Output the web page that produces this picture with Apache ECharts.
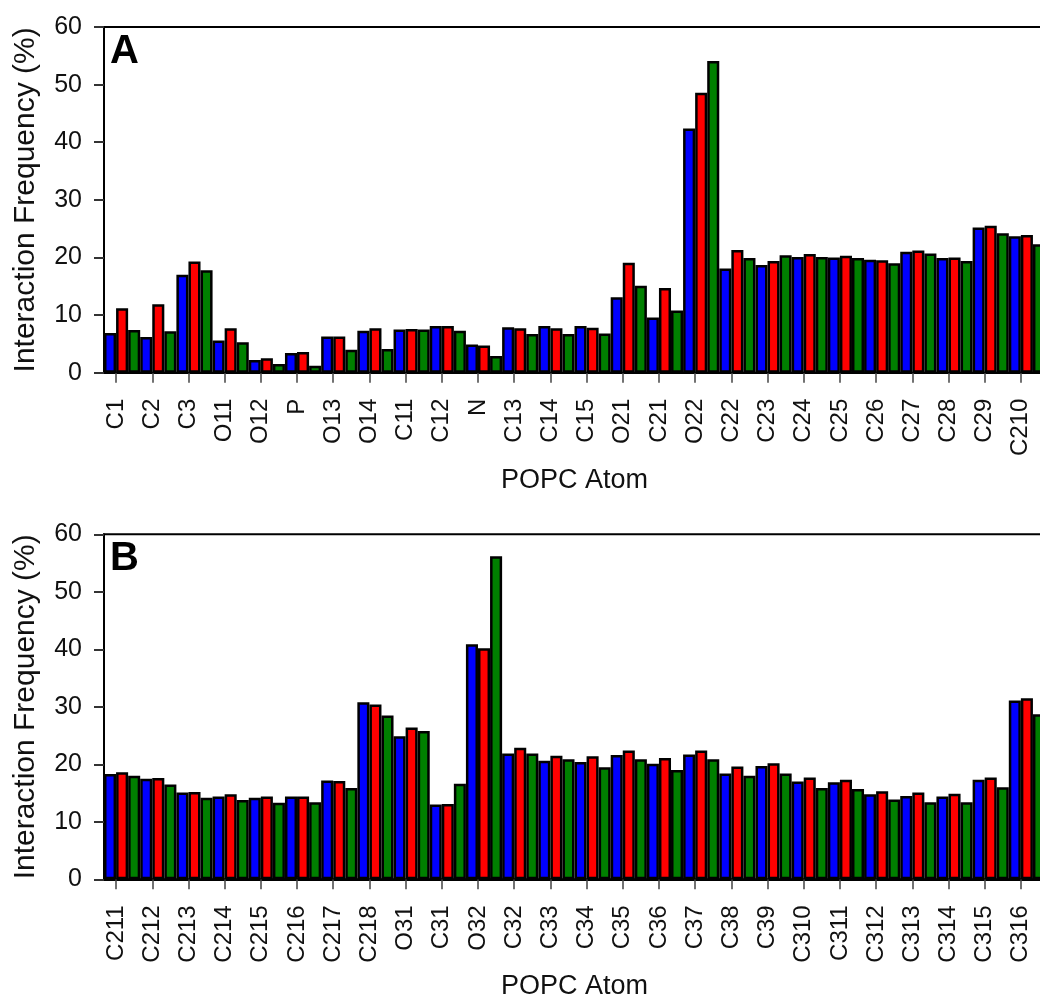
<!DOCTYPE html>
<html>
<head>
<meta charset="utf-8">
<script src="https://cdn.jsdelivr.net/npm/echarts@6/dist/echarts.min.js"></script>
<style>
html, body { margin: 0; padding: 0; background: #fff; }
#chart { width: 1040px; height: 1001px; }
</style>
</head>
<body>
<div id="chart"></div>
<script>
// panel A
var atomsA = ["C1", "C2", "C3", "O11", "O12", "P", "O13", "O14", "C11", "C12", "N", "C13", "C14",
    "C15", "O21", "C21", "O22", "C22", "C23", "C24", "C25", "C26", "C27", "C28", "C29", "C210"];
var blueA = [6.9, 6.2, 17.0, 5.6, 2.2, 3.4, 6.3, 7.3, 7.5, 8.1, 4.9, 7.9, 8.1,
    8.1, 13.1, 9.6, 42.4, 18.1, 18.7, 20.1, 20.0, 19.6, 21.0, 19.9, 25.2, 23.7];
var redA = [11.2, 11.9, 19.3, 7.7, 2.5, 3.6, 6.3, 7.7, 7.6, 8.1, 4.7, 7.7, 7.7,
    7.8, 19.1, 14.7, 48.6, 21.3, 19.4, 20.6, 20.3, 19.5, 21.2, 20.0, 25.5, 23.9];
var greenA = [7.4, 7.2, 17.8, 5.3, 1.5, 1.2, 4.0, 4.1, 7.5, 7.3, 2.9, 6.7, 6.7,
    6.8, 15.1, 10.8, 54.1, 19.9, 20.4, 20.1, 19.9, 19.0, 20.7, 19.4, 24.2, 22.3];

// panel B
var atomsB = ["C211", "C212", "C213", "C214", "C215", "C216", "C217", "C218", "O31", "C31", "O32", "C32", "C33",
    "C34", "C35", "C36", "C37", "C38", "C39", "C310", "C311", "C312", "C313", "C314", "C315", "C316"];
var blueB = [18.3, 17.5, 15.1, 14.4, 14.2, 14.4, 17.2, 30.8, 24.9, 13.0, 40.9, 21.9, 20.6,
    20.4, 21.6, 20.1, 21.7, 18.4, 19.7, 17.0, 16.9, 14.8, 14.5, 14.4, 17.3, 31.1];
var redB = [18.6, 17.6, 15.2, 14.8, 14.4, 14.4, 17.1, 30.4, 26.4, 13.1, 40.2, 22.9, 21.5,
    21.4, 22.4, 21.1, 22.4, 19.6, 20.2, 17.7, 17.3, 15.3, 15.1, 14.9, 17.7, 31.5];
var greenB = [18.0, 16.5, 14.2, 13.8, 13.3, 13.4, 15.9, 28.5, 25.8, 16.6, 56.2, 21.9, 20.9,
    19.5, 20.9, 19.0, 20.9, 18.0, 18.4, 15.9, 15.7, 13.9, 13.4, 13.4, 16.0, 28.7];

var yTicks = [0, 10, 20, 30, 40, 50, 60];

var FONT = "'Liberation Sans', Arial, sans-serif";
var colors = ["#0000ff", "#ff0000", "#008000"];

// bars sit in a grid 941px wide; tick labels are drawn on a second grid shifted by half a bar
var plotW = 941;
var shift = plotW / 26 / 6;
var panels = [
    {top: 27, height: 345.7, label: "A", atoms: atomsA, values: [blueA, redA, greenA]},
    {top: 534.3, height: 345, label: "B", atoms: atomsB, values: [blueB, redB, greenB]}
];

var option = {
    animation: false,
    backgroundColor: "#fff",
    grid: [],
    xAxis: [],
    yAxis: [],
    series: [],
    graphic: []
};

for (var p = 0; p < panels.length; p++) {
    var pan = panels[p];
    var gBars = option.grid.length;
    option.grid.push({left: 104, top: pan.top, width: plotW, height: pan.height,
        show: true, borderColor: "#000", borderWidth: 2, outerBoundsMode: "none"});
    option.grid.push({left: 104 - shift, top: pan.top, width: plotW, height: pan.height,
        outerBoundsMode: "none"});

    option.xAxis.push({
        type: "category", gridIndex: gBars, data: pan.atoms,
        name: "POPC Atom", nameLocation: "middle", nameGap: 94,
        nameTextStyle: {fontFamily: FONT, fontSize: 27, color: "#111"},
        axisLine: {lineStyle: {color: "#000", width: 2}},
        axisTick: {show: false}, axisLabel: {show: false}
    });
    option.xAxis.push({
        type: "category", gridIndex: gBars + 1, data: pan.atoms,
        axisLine: {show: false},
        axisTick: {show: true, alignWithLabel: true, length: 10, lineStyle: {color: "#444", width: 1.5}},
        axisLabel: {rotate: 90, margin: 26, interval: 0, fontFamily: FONT, fontSize: 24, color: "#111"}
    });

    option.yAxis.push({
        type: "value", gridIndex: gBars, min: yTicks[0], max: yTicks[yTicks.length - 1], interval: 10,
        name: "Interaction Frequency (%)", nameLocation: "middle", nameGap: 63,
        nameTextStyle: {fontFamily: FONT, fontSize: 30, color: "#111"},
        splitLine: {show: false},
        axisLine: {show: true, lineStyle: {color: "#000", width: 2}},
        axisTick: {show: true, length: 10, lineStyle: {color: "#333", width: 2}},
        axisLabel: {margin: 22, fontFamily: FONT, fontSize: 25, color: "#111"}
    });
    option.yAxis.push({type: "value", gridIndex: gBars + 1, min: 0, max: 60, show: false});

    for (var s = 0; s < 3; s++) {
        option.series.push({
            type: "bar", xAxisIndex: gBars, yAxisIndex: gBars,
            data: pan.values[s],
            barGap: "0%", barCategoryGap: "0%",
            itemStyle: {color: colors[s], borderColor: "#000", borderWidth: 2.5},
            emphasis: {disabled: true}
        });
    }

    option.graphic.push({
        type: "text", left: 110, top: pan.top + 5,
        style: {text: pan.label, font: "bold 40px " + FONT, fill: "#000"}
    });
}

var chart = echarts.init(document.getElementById("chart"), null, {renderer: "canvas"});
chart.setOption(option);
</script>
</body>
</html>
